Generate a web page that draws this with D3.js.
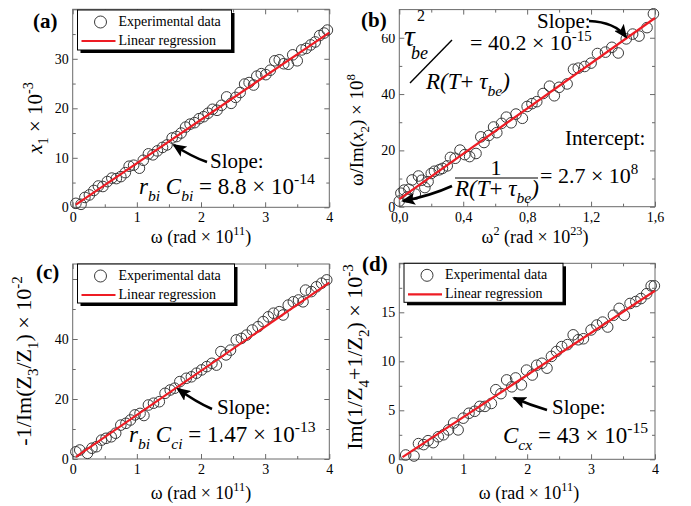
<!DOCTYPE html>
<html>
<head>
<meta charset="utf-8">
<script src="https://cdn.jsdelivr.net/npm/d3@7/dist/d3.min.js"></script>
<style>
  html, body { margin: 0; padding: 0; background: #fff; }
  svg { display: block; }
  svg text, svg tspan { font-family: "Liberation Serif", "Times New Roman", serif; fill: #000; }
</style>
</head>
<body>
<svg id="chart" width="691" height="506"></svg>
<script>
// ---- data -------------------------------------------------------------
// (a) x1 vs omega
const omegaA = [0.05,0.13,0.19,0.26,0.33,0.40,0.47,0.54,0.61,0.68,0.75,0.82,0.88,0.95,1.04,1.10,1.18,1.25,1.32,1.40,1.47,1.55,1.62,1.69,1.76,1.83,1.90,1.97,2.04,2.11,2.18,2.25,2.32,2.40,2.47,2.54,2.61,2.68,2.75,2.82,2.87,2.94,3.01,3.08,3.15,3.22,3.29,3.36,3.43,3.50,3.57,3.64,3.71,3.78,3.85,3.92,3.97];
const x1A    = [0.8,0.6,2.0,2.5,3.4,4.3,4.2,5.2,5.9,5.8,6.2,7.0,8.3,8.5,7.9,9.5,10.8,10.6,11.4,12.1,12.6,14.0,14.3,15.0,16.2,16.8,17.1,17.9,18.3,19.0,19.8,19.6,20.6,22.3,21.0,22.2,23.2,24.9,25.2,24.7,26.5,27.0,26.8,27.7,29.6,29.8,29.0,28.9,30.8,29.6,31.8,32.1,32.8,33.4,34.7,35.2,35.8];
const fitA = { slope: 8.8, intercept: 0.1, from: 0.05, to: 4 };

// (b) omega/Im(x2) vs omega^2
const omega2B = [0.00,0.01,0.03,0.05,0.06,0.08,0.10,0.12,0.14,0.16,0.18,0.20,0.22,0.25,0.27,0.30,0.32,0.35,0.38,0.41,0.44,0.48,0.51,0.53,0.56,0.59,0.61,0.64,0.67,0.70,0.73,0.77,0.80,0.83,0.86,0.90,0.94,0.97,1.00,1.05,1.09,1.12,1.16,1.20,1.24,1.29,1.33,1.37,1.42,1.46,1.50,1.55,1.59];
const ratioB  = [2.0,4.8,5.9,3.5,6.2,9.5,4.5,10.9,9.4,6.8,8.9,11.8,12.6,13.1,13.6,14.5,17.5,17.2,20.1,18.5,17.8,18.9,24.8,22.8,25.3,28.3,26.3,29.6,31.8,29.8,32.9,31.4,35.6,36.6,37.3,40.2,42.8,39.4,42.4,43.6,48.8,49.2,49.8,51.0,54.4,54.9,56.6,54.6,59.6,61.3,60.6,63.6,68.5];
const fitB = { slope: 40.2, intercept: 2.7, from: 0, to: 1.6 };

// (c) -1/Im(Z3/Z1) vs omega
const omegaC = [0.05,0.11,0.23,0.30,0.37,0.45,0.52,0.60,0.67,0.75,0.83,0.90,0.97,1.05,1.11,1.18,1.26,1.35,1.44,1.52,1.59,1.67,1.77,1.85,1.93,2.01,2.09,2.17,2.24,2.31,2.39,2.46,2.55,2.63,2.71,2.80,2.89,2.97,3.05,3.13,3.22,3.28,3.36,3.44,3.52,3.59,3.63,3.72,3.80,3.88,3.96];
const invC   = [2.4,3.0,1.9,3.6,4.1,6.3,6.9,7.4,8.6,11.3,11.9,13.0,14.7,15.2,14.5,18.0,18.6,19.1,21.9,23.0,23.6,25.8,26.9,27.4,28.6,29.7,30.8,31.9,31.3,35.8,34.7,36.3,39.7,40.2,41.3,43.0,44.1,45.8,47.4,48.6,49.1,48.0,51.3,52.4,53.0,52.4,56.3,55.8,57.4,58.6,59.7];
const fitC = { slope: 14.7, intercept: 0, from: 0.05, to: 4 };

// (d) Im(1/Z4 + 1/Z2) vs omega
const omegaD = [0.10,0.23,0.30,0.38,0.45,0.53,0.61,0.69,0.77,0.85,0.92,1.00,1.09,1.18,1.26,1.34,1.44,1.51,1.59,1.68,1.76,1.82,1.91,1.99,2.08,2.15,2.23,2.31,2.38,2.46,2.54,2.63,2.72,2.80,2.88,3.00,3.09,3.18,3.26,3.35,3.44,3.52,3.61,3.70,3.78,3.87,3.94,3.99];
const imD    = [0.44,0.34,1.6,1.5,1.9,1.7,2.3,2.5,3.0,3.7,3.0,4.2,4.7,4.9,5.4,5.4,5.7,7.1,6.7,8.1,7.4,8.3,7.6,9.1,8.6,9.6,9.8,9.3,10.5,11.0,11.5,11.7,12.7,12.2,12.3,13.2,13.7,14.0,13.5,14.7,15.4,14.7,15.9,16.1,16.4,16.9,17.7,17.7];
const fitD = { slope: 4.3, intercept: 0, from: 0.05, to: 4 };

// tick values
const omegaTicks = [0, 1, 2, 3, 4];
const omegaMinor = [0.5, 1.5, 2.5, 3.5];
const omega2Ticks = [0, 0.4, 0.8, 1.2, 1.6];
const omega2Minor = [0.2, 0.6, 1.0, 1.4];
const yTicksA = [0, 10, 20, 30, 40], yLabelsA = [0, 10, 20, 30], yMinorA = [5, 15, 25, 35];
const yTicksB = [0, 20, 40, 60], yLabelsB = [0, 20, 40, 60], yMinorB = [10, 30, 50];
const yTicksC = [0, 20, 40, 60], yLabelsC = [0, 20, 40], yMinorC = [10, 30, 50];
const yTicksD = [0, 5, 10, 15, 20], yLabelsD = [0, 5, 10, 15], yMinorD = [2.5, 7.5, 12.5, 17.5];

const legendLabels = ["Experimental data", "Linear regression"];

// ---- drawing helpers -------------------------------------------------
const SERIF = "Liberation Serif, Times New Roman, serif";
const svg = d3.select("#chart").attr("font-family", SERIF);
const RED = "#ee1c24";

svg.append("defs").append("marker")
  .attr("id", "head")
  .attr("markerUnits", "userSpaceOnUse")
  .attr("markerWidth", 14).attr("markerHeight", 12)
  .attr("refX", 12).attr("refY", 6)
  .attr("orient", "auto")
  .append("path").attr("d", "M0,0 L14,6 L0,12 L3,6 Z").attr("fill", "#000");

function label(g, x, y, size, s) {
  return g.append("text").attr("x", x).attr("y", y)
    .attr("font-family", SERIF).attr("font-size", size).text(s);
}

// Text with italic / sub / superscript runs.
// parts: [text, flags] where flags may contain "i", "sub", "sup"
function rich(g, x, y, size, parts, anchor, rotate) {
  const t = g.append("text")
    .attr("x", x).attr("y", y)
    .attr("font-family", SERIF)
    .attr("font-size", size)
    .attr("text-anchor", anchor || "start");
  if (rotate) t.attr("transform", `rotate(${rotate},${x},${y})`);
  let shift = 0;
  parts.forEach(([s, f]) => {
    f = f || "";
    let off = 0, fs = size;
    if (f.includes("sub")) { off = size * 0.3; fs = size * 0.68; }
    if (f.includes("sup")) { off = -size * 0.42; fs = size * 0.68; }
    const sp = t.append("tspan").text(s)
      .attr("font-family", SERIF)
      .attr("font-size", fs)
      .attr("dy", off - shift);
    if (f.includes("i")) sp.attr("font-style", "italic");
    shift = off;
  });
  return t;
}

function arrow(g, d) {
  g.append("path").attr("d", d)
    .attr("fill", "none").attr("stroke", "#000")
    .attr("stroke-width", 2.6)
    .attr("marker-end", "url(#head)");
}

function panel(cfg) {
  const g = svg.append("g");
  const x = d3.scaleLinear().domain(cfg.xDomain).range([cfg.L, cfg.R]);
  const y = d3.scaleLinear().domain(cfg.yDomain).range([cfg.B, cfg.T]);
  const frameCol = "#6a6a6a";

  const styleAxis = sel => {
    sel.attr("font-family", SERIF);
    sel.select(".domain").remove();
    sel.selectAll(".tick line").attr("stroke", frameCol);
    sel.selectAll(".tick text")
      .attr("font-family", SERIF)
      .attr("font-size", 14).attr("fill", "#000");
  };

  // major / minor ticks on all four sides, pointing inward
  g.append("g").attr("transform", `translate(0,${cfg.B})`)
    .call(d3.axisBottom(x).tickValues(cfg.xTicks).tickSize(-5).tickSizeOuter(0)
      .tickPadding(5).tickFormat(cfg.xFormat)).call(styleAxis);
  g.append("g").attr("transform", `translate(0,${cfg.B})`)
    .call(d3.axisBottom(x).tickValues(cfg.xMinor).tickSize(-3).tickFormat("")).call(styleAxis);
  g.append("g").attr("transform", `translate(0,${cfg.T})`)
    .call(d3.axisTop(x).tickValues(cfg.xTicks).tickSize(-5).tickFormat("")).call(styleAxis);
  g.append("g").attr("transform", `translate(0,${cfg.T})`)
    .call(d3.axisTop(x).tickValues(cfg.xMinor).tickSize(-3).tickFormat("")).call(styleAxis);

  g.append("g").attr("transform", `translate(${cfg.L},0)`)
    .call(d3.axisLeft(y).tickValues(cfg.yTicks).tickSize(-5).tickSizeOuter(0)
      .tickPadding(4).tickFormat(v => cfg.yLabels.includes(v) ? String(v) : "")).call(styleAxis);
  g.append("g").attr("transform", `translate(${cfg.L},0)`)
    .call(d3.axisLeft(y).tickValues(cfg.yMinor).tickSize(-3).tickFormat("")).call(styleAxis);
  g.append("g").attr("transform", `translate(${cfg.R},0)`)
    .call(d3.axisRight(y).tickValues(cfg.yTicks).tickSize(-5).tickFormat("")).call(styleAxis);
  g.append("g").attr("transform", `translate(${cfg.R},0)`)
    .call(d3.axisRight(y).tickValues(cfg.yMinor).tickSize(-3).tickFormat("")).call(styleAxis);

  g.append("rect")
    .attr("x", cfg.L).attr("y", cfg.T)
    .attr("width", cfg.R - cfg.L).attr("height", cfg.B - cfg.T)
    .attr("fill", "none").attr("stroke", frameCol).attr("stroke-width", 1);

  // experimental points
  g.append("g").selectAll("circle")
    .data(cfg.xs.map((v, i) => [v, cfg.ys[i]]))
    .join("circle")
    .attr("cx", d => x(d[0])).attr("cy", d => y(d[1]))
    .attr("r", 5.3)
    .attr("fill", "none").attr("stroke", "#3a3a3a").attr("stroke-width", 1);

  // regression line
  const f = cfg.fit;
  g.append("line")
    .attr("x1", x(f.from)).attr("y1", y(f.intercept + f.slope * f.from))
    .attr("x2", x(f.to)).attr("y2", y(f.intercept + f.slope * f.to))
    .attr("stroke", RED).attr("stroke-width", 2.2);

  return { g, x, y };
}

function legend(lx, ly, w, h) {
  const g = svg.append("g");
  g.append("rect").attr("x", lx + 3).attr("y", ly + 3).attr("width", w).attr("height", h).attr("fill", "#000");
  g.append("rect").attr("x", lx).attr("y", ly).attr("width", w).attr("height", h)
    .attr("fill", "#fff").attr("stroke", "#000").attr("stroke-width", 1);
  g.append("circle").attr("cx", lx + 23).attr("cy", ly + 12).attr("r", 6)
    .attr("fill", "none").attr("stroke", "#3a3a3a").attr("stroke-width", 1);
  label(g, lx + 41, ly + 16, 14, legendLabels[0]);
  g.append("line").attr("x1", lx + 4).attr("x2", lx + 38).attr("y1", ly + 31).attr("y2", ly + 31)
    .attr("stroke", RED).attr("stroke-width", 2.2);
  label(g, lx + 41, ly + 35, 14, legendLabels[1]);
}

const commaFmt = v => d3.format(".1f")(v).replace(".", ",");

// ---- panel (a) ----
panel({ L: 72.7, R: 329.3, T: 9.3, B: 207.3, xDomain: [0, 4], yDomain: [0, 40],
  xTicks: omegaTicks, xMinor: omegaMinor, xFormat: d3.format("d"),
  yTicks: yTicksA, yLabels: yLabelsA, yMinor: yMinorA,
  xs: omegaA, ys: x1A, fit: fitA });
legend(77.5, 10, 154, 40);

// ---- panel (b) ----
panel({ L: 399.3, R: 655, T: 9.6, B: 206.7, xDomain: [0, 1.6], yDomain: [0, 70],
  xTicks: omega2Ticks, xMinor: omega2Minor, xFormat: commaFmt,
  yTicks: yTicksB, yLabels: yLabelsB, yMinor: yMinorB,
  xs: omega2B, ys: ratioB, fit: fitB });

// ---- panel (c) ----
panel({ L: 72.7, R: 329.3, T: 264, B: 459, xDomain: [0, 4], yDomain: [0, 65],
  xTicks: omegaTicks, xMinor: omegaMinor, xFormat: d3.format("d"),
  yTicks: yTicksC, yLabels: yLabelsC, yMinor: yMinorC,
  xs: omegaC, ys: invC, fit: fitC });
legend(77.5, 264, 157, 39);

// ---- panel (d) ----
panel({ L: 399.3, R: 655, T: 263.3, B: 459.3, xDomain: [0, 4], yDomain: [0, 20],
  xTicks: omegaTicks, xMinor: omegaMinor, xFormat: d3.format("d"),
  yTicks: yTicksD, yLabels: yLabelsD, yMinor: yMinorD,
  xs: omegaD, ys: imD, fit: fitD });
legend(404, 263.3, 159, 39);

// ---- panel letters ----
const ann = svg.append("g");
ann.append("rect").attr("x", 358).attr("y", 10).attr("width", 36).attr("height", 24).attr("fill", "#fff");
[["(a)", 33, 28], ["(b)", 361, 27], ["(c)", 36, 279], ["(d)", 362, 271]].forEach(([s, x, y]) =>
  label(ann, x, y, 21, s).attr("font-weight", "bold"));

// ---- axis titles ----
rich(ann, 201, 243, 18, [["ω  (rad × 10"], ["11", "sup"], [")"]], "middle");
rich(ann, 535, 243, 18, [["ω"], ["2", "sup"], ["  (rad × 10"], ["23", "sup"], [")"]], "middle");
rich(ann, 201, 499, 18, [["ω  (rad × 10"], ["11", "sup"], [")"]], "middle");
rich(ann, 529, 499, 18, [["ω  (rad × 10"], ["11", "sup"], [")"]], "middle");

rich(ann, 42, 118, 21, [["x", "i"], ["1", "sub"], [" × 10"], ["-3", "sup"]], "middle", -90);
rich(ann, 363, 130, 19, [["ω/Im("], ["x", "i"], ["2", "sub"], [") × 10"], ["8", "sup"]], "middle", -90);
rich(ann, 31, 361, 22, [["-1/Im(Z"], ["3", "sub"], ["/Z"], ["1", "sub"], [") × 10"], ["-2", "sup"]], "middle", -90);
rich(ann, 362, 357, 22, [["Im(1/Z"], ["4", "sub"], ["+1/Z"], ["2", "sub"], [") × 10"], ["-3", "sup"]], "middle", -90);

// ---- annotations (a) ----
label(ann, 210, 168, 21, "Slope:");
rich(ann, 139, 194, 23, [["r", "i"], ["bi", "i sub"], [" "], ["C", "i"], ["bi", "i sub"], [" = 8.8 × 10"], ["-14", "sup"]]);
arrow(ann, "M207,162 Q192,157 174,145");

// ---- annotations (b) ----
rich(ann, 404, 46, 30, [["τ", "i"]]);
label(ann, 417, 21, 16, "2");
label(ann, 411, 59, 18, "be").attr("font-style", "italic");
ann.append("line").attr("x1", 410).attr("y1", 83).attr("x2", 452).attr("y2", 40).attr("stroke", "#000").attr("stroke-width", 1.4);
rich(ann, 426, 89, 23, [["R(T", "i"], ["+ "], ["τ", "i"], ["be", "i sub"], [")", "i"]]);
rich(ann, 470, 50, 22, [["= 40.2 × 10"], ["-15", "sup"]]);
label(ann, 537, 28, 21, "Slope:");
arrow(ann, "M589,21 Q615,22 626,37");

label(ann, 565, 145, 21, "Intercept:");
label(ann, 496, 175, 22, "1").attr("text-anchor", "middle");
ann.append("line").attr("x1", 455).attr("x2", 538).attr("y1", 178).attr("y2", 178).attr("stroke", "#000").attr("stroke-width", 1.2);
rich(ann, 455, 196, 23, [["R(T", "i"], ["+ "], ["τ", "i"], ["be", "i sub"], [")", "i"]]);
rich(ann, 540, 183, 22, [["= 2.7 × 10"], ["8", "sup"]]);
arrow(ann, "M452,186 Q430,196 403,201");

// ---- annotations (c) ----
label(ann, 217, 414, 21, "Slope:");
rich(ann, 129, 442, 23, [["r", "i"], ["bi", "i sub"], [" "], ["C", "i"], ["ci", "i sub"], [" = 1.47 × 10"], ["-13", "sup"]]);
arrow(ann, "M212,409 Q196,402 178,389");

// ---- annotations (d) ----
label(ann, 552, 414, 21, "Slope:");
rich(ann, 503, 443, 23, [["C", "i"], ["cx", "i sub"], [" = 43 × 10"], ["-15", "sup"]]);
arrow(ann, "M547,410 Q530,405 514,398");
</script>
</body>
</html>
